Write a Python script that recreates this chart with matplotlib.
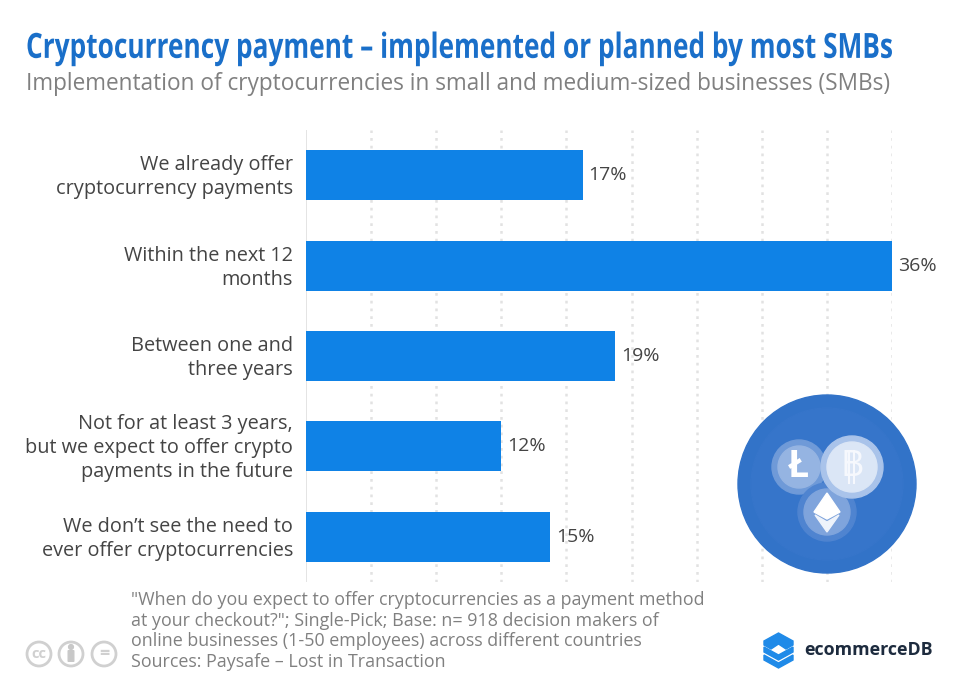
import matplotlib
matplotlib.use("Agg")
import matplotlib.pyplot as plt
from matplotlib.patches import Circle, Polygon, FancyBboxPatch
from matplotlib.patheffects import AbstractPathEffect
from matplotlib.transforms import Affine2D, ScaledTranslation

categories = [
    "We already offer\ncryptocurrency payments",
    "Within the next 12\nmonths",
    "Between one and\nthree years",
    "Not for at least 3 years,\nbut we expect to offer crypto\npayments in the future",
    "We don\u2019t see the need to\never offer cryptocurrencies",
]
values = [17, 36, 19, 12, 15]
grid_ticks = [0, 4, 8, 12, 16, 20, 24, 28, 32, 36]

title = "Cryptocurrency payment \u2013 implemented or planned by most SMBs"
subtitle = "Implementation of cryptocurrencies in small and medium-sized businesses (SMBs)"
note = ("\"When do you expect to offer cryptocurrencies as a payment method\n"
        "at your checkout?\"; Single-Pick; Base: n= 918 decision makers of\n"
        "online businesses (1-50 employees) across different countries\n"
        "Sources: Paysafe \u2013 Lost in Transaction")

W, H = 960, 684
plt.rcParams['font.family'] = ['Open Sans', 'DejaVu Sans']
fig = plt.figure(figsize=(W / 100, H / 100), dpi=100, facecolor='white')


# no condensed font here, so stretch the title's shape when it is drawn
class Stretch(AbstractPathEffect):
    def __init__(self, x0, y0, sx, sy):
        super().__init__()
        self.x0, self.y0, self.sx, self.sy = x0, y0, sx, sy

    def draw_path(self, renderer, gc, tpath, affine, rgbFace=None):
        stretch = Affine2D().translate(-self.x0, -self.y0).scale(self.sx, self.sy).translate(self.x0, self.y0)
        renderer.draw_path(gc, tpath, affine + stretch, rgbFace)


# chart area
ax = fig.add_axes([306 / W, 1 - 582 / H, 586 / W, 452 / H])
ypos = list(range(len(values)))
ax.barh(ypos, values, height=0.555, color='#0f82e6', zorder=3)
ax.set_xlim(0, 36)
ax.set_ylim(len(values) - 0.5, -0.5)
ax.set_yticks(ypos)
ax.set_yticklabels(categories, fontsize=14.3, color='#444444', linespacing=1.27)
ax.set_xticks(grid_ticks)
ax.tick_params(axis='both', length=0, labelbottom=False, pad=9.4)
for lab in ax.get_yticklabels():
    lab.set_transform(lab.get_transform() + ScaledTranslation(0, 2.5 / 100, fig.dpi_scale_trans))
for s in ax.spines.values():
    s.set_visible(False)
ax.grid(False)
for t in grid_ticks[1:]:
    ax.axvline(t, color='#e2e2e2', lw=1.8, ls=(0, (1.1, 2.0)), zorder=1)
ax.axvline(0, color='#e2e2e2', lw=1.3, zorder=1)
for y, v in zip(ypos, values):
    ax.text(v + 0.35, y, f"{v}%", va='center', ha='left', fontsize=14,
            color='#444444', clip_on=False)

# overlay in pixel coordinates for text and logos
ov = fig.add_axes([0, 0, 1, 1], zorder=5)
ov.set_xlim(0, W)
ov.set_ylim(H, 0)
ov.axis('off')
ov.patch.set_alpha(0)

title_txt = ov.text(26, 48.5, title, fontsize=20, fontweight='bold', color='#1a6fc9',
                    va='center', ha='left')
title_box = title_txt.get_window_extent(fig.canvas.get_renderer())
title_txt.set_path_effects([Stretch(26, H - 48.5, 866 / title_box.width, 25 / 20)])

ov.text(26, 84, subtitle, fontsize=16.32, color='#808080', va='center', ha='left')
ov.text(131, 631, note, fontsize=12.9, color='#808080', va='center', ha='left', linespacing=1.2)

# coin badge
ov.add_patch(Circle((827, 484), 89, color='#3273c8', zorder=2))
ov.add_patch(Circle((827, 484), 76, color='#3675ca', zorder=2))
ov.add_patch(Circle((799, 467), 27, color='#6f9ad8', zorder=3))
ov.add_patch(Circle((799, 467), 21, color='#95b4e2', zorder=3))
ov.add_patch(Circle((827, 512), 29, color='#4f84d0', zorder=3))
ov.add_patch(Circle((827, 512), 23, color='#7fa4dc', zorder=3))
ov.add_patch(Circle((852, 467), 31, color='#a9c3ea', zorder=4))
ov.add_patch(Circle((852, 467), 25, color='#dbe6f6', zorder=4))
ov.text(799, 467, "\u0141", fontsize=27, fontweight='bold', color='white',
        ha='center', va='center', zorder=5)
ov.text(852, 467, "B", fontsize=26, color='#f6f8fd', ha='center', va='center', zorder=5)
for bx in (849, 854):
    ov.plot([bx, bx], [451, 483], color='#f6f8fd', lw=1.5, zorder=5)
ov.add_patch(Polygon([(827, 493), (840, 512), (827, 519), (814, 512)], color='white', zorder=5))
ov.add_patch(Polygon([(815, 515), (827, 522), (839, 515), (827, 532)], color='#eef3fb', zorder=5))
ov.set_xlim(0, W)
ov.set_ylim(H, 0)

# cc icons
for cx in (39, 71, 104):
    ov.add_patch(Circle((cx, 654), 12, fill=False, ec='#d0d0d0', lw=2))
ov.text(39, 654, "cc", fontsize=10.5, fontweight='bold', color='#d0d0d0', ha='center', va='center')
ov.add_patch(Circle((71, 647), 2.4, color='#c8c8c8'))
ov.add_patch(FancyBboxPatch((68.5, 651), 5, 10, boxstyle='round,pad=0.3', color='#c8c8c8'))
ov.text(104, 654, "=", fontsize=13, fontweight='bold', color='#d0d0d0', ha='center', va='center')

# ecommerceDB logo
for top in (658, 650):
    ov.add_patch(Polygon([(764, top - 3), (778.5, top + 5), (793, top - 3), (793, top + 2),
                          (778.5, top + 10), (764, top + 2)], color='#1f8ae8'))
ov.add_patch(Polygon([(764, 641), (778.5, 633), (793, 641), (793, 645), (786, 649),
                      (778.5, 644), (771, 649), (764, 645)], color='#1f8ae8'))
ov.text(804, 650, "ecommerceDB", fontsize=12.9, fontweight='bold', color='#1d2b3e',
        ha='left', va='center')

fig.savefig("out.png", dpi=100)
